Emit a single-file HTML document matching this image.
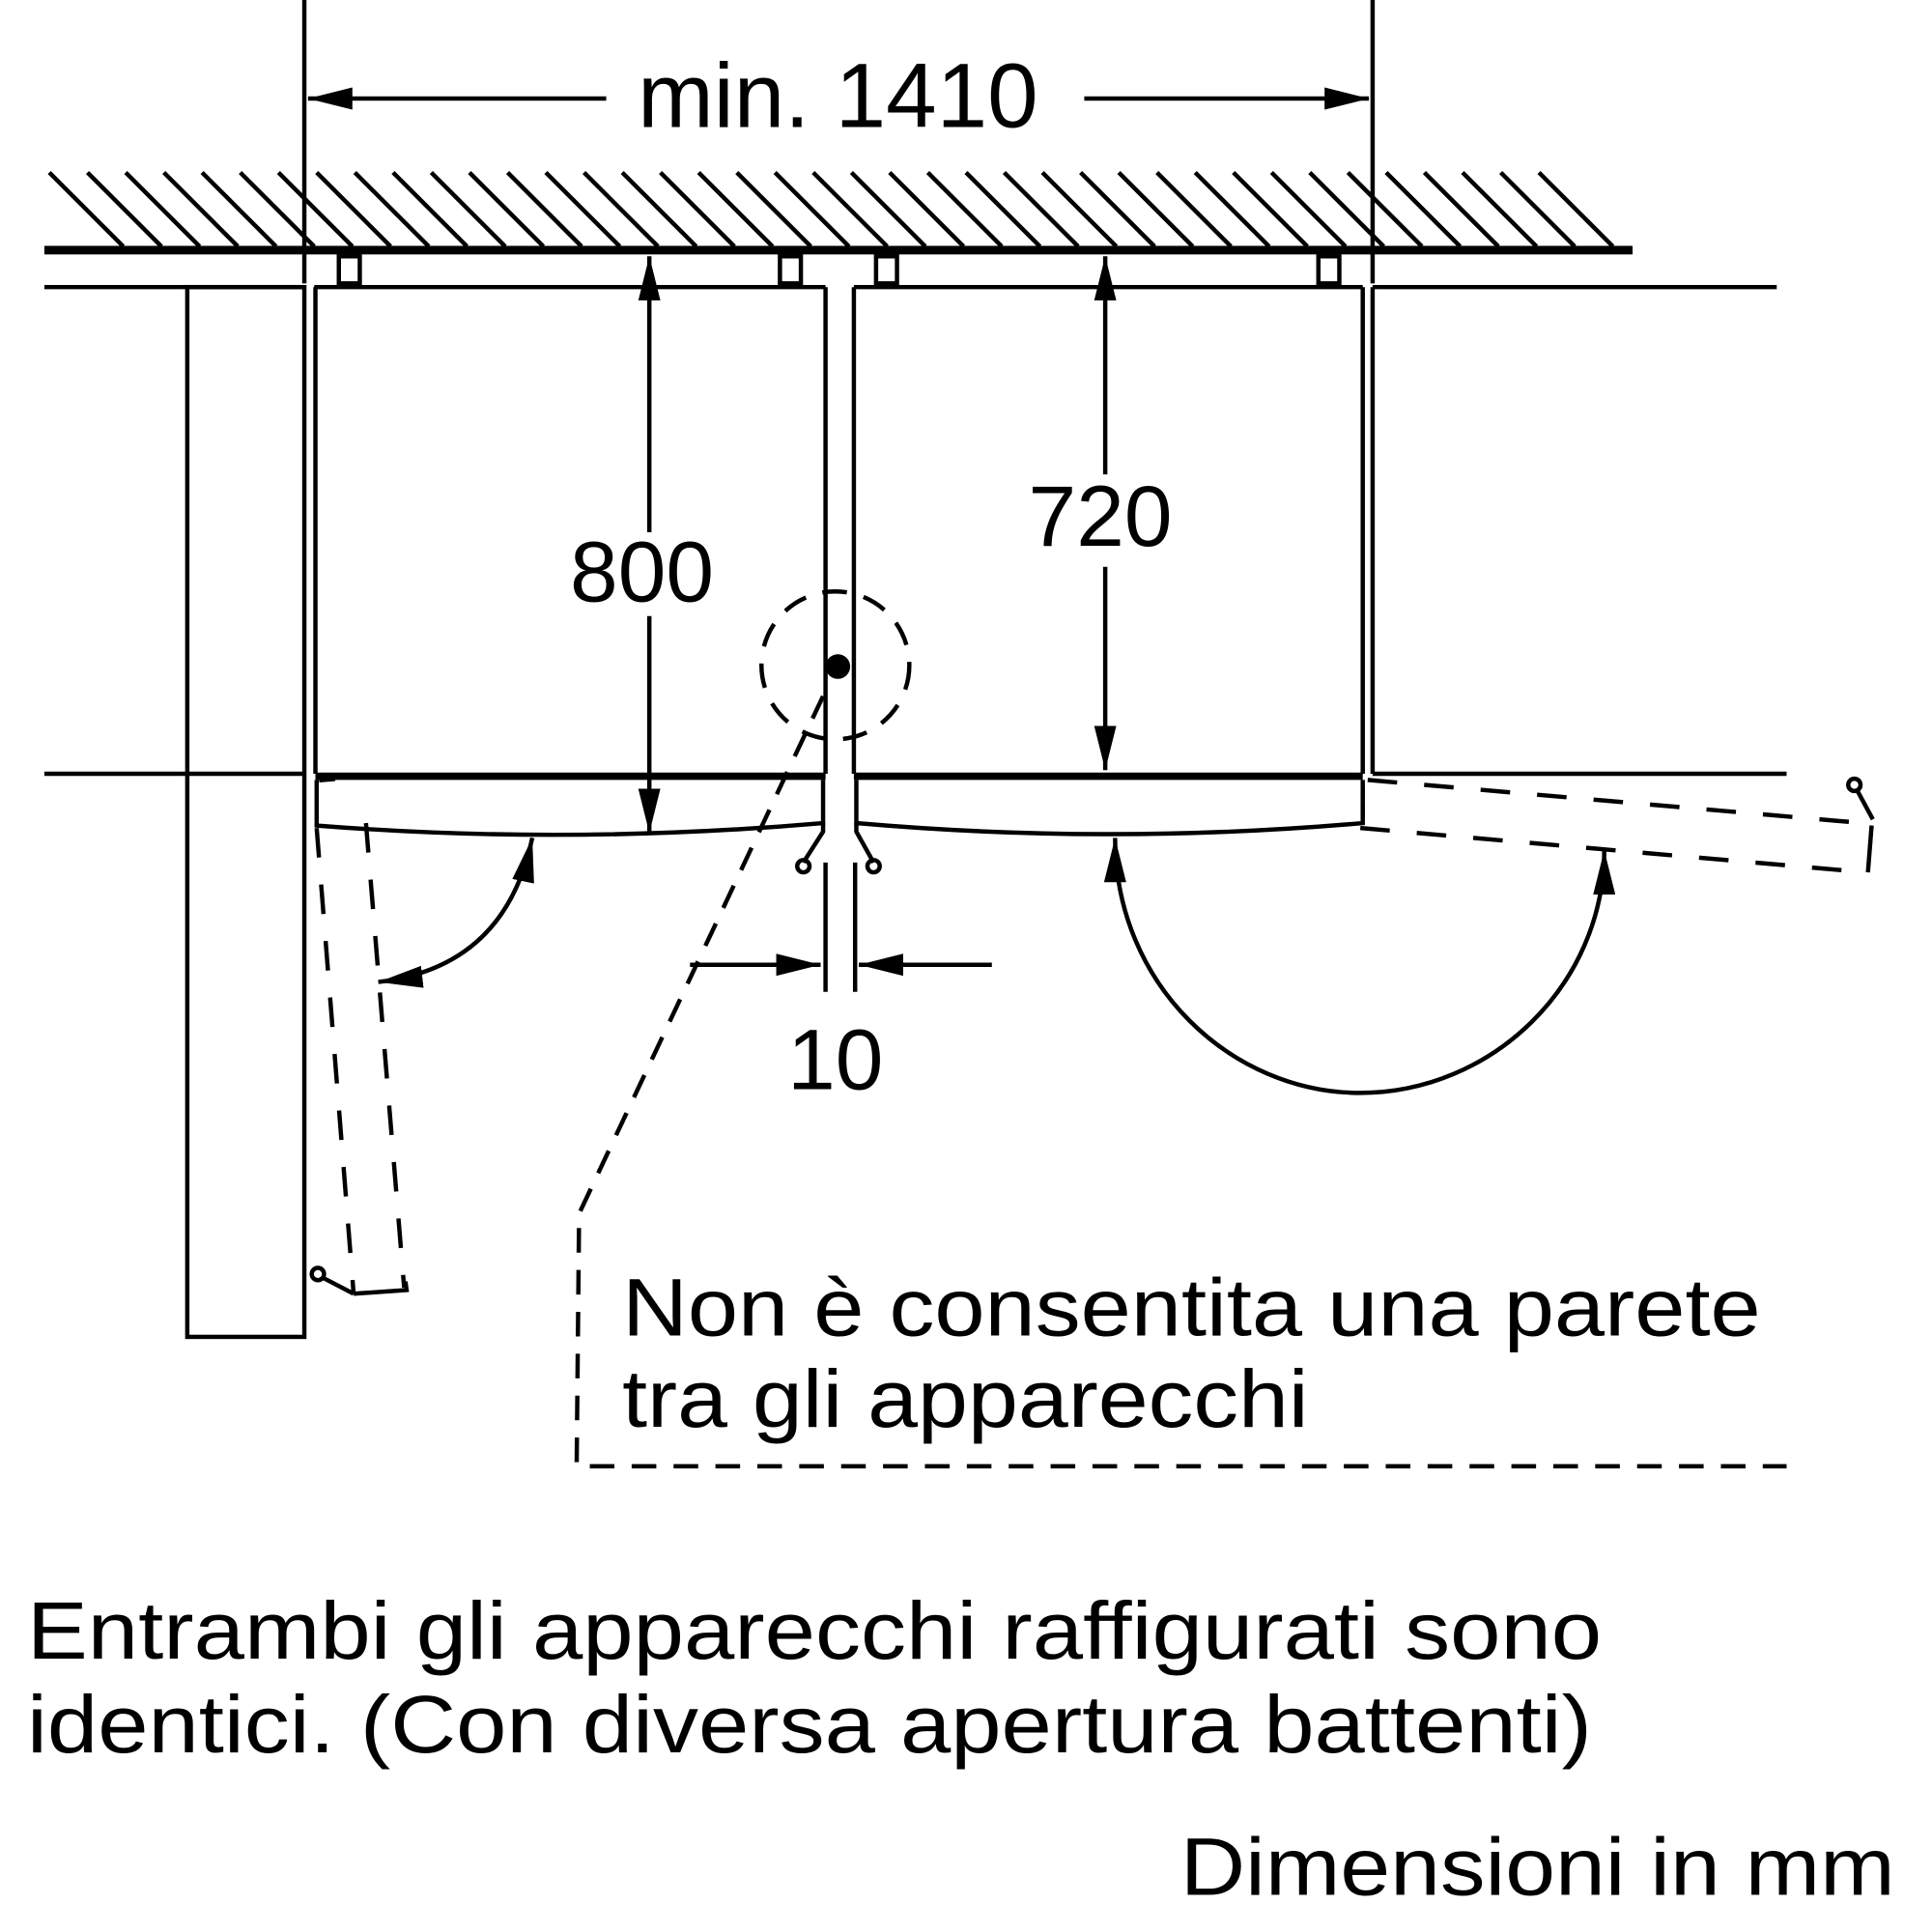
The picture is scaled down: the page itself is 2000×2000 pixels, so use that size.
<!DOCTYPE html>
<html><head><meta charset="utf-8"><style>html,body{margin:0;padding:0;background:#fff}svg{display:block}</style></head>
<body>
<svg width="2000" height="2000" viewBox="0 0 1568 1568" xmlns="http://www.w3.org/2000/svg" font-family="Liberation Sans, sans-serif">
<defs>
<marker id="s" viewBox="0 0 36 18" refX="36" refY="9" markerWidth="36" markerHeight="18" markerUnits="userSpaceOnUse" orient="auto"><path d="M0,0 L36,9 L0,18 Z" fill="#000"/></marker>
<marker id="sb" viewBox="0 0 36 18" refX="0" refY="9" markerWidth="36" markerHeight="18" markerUnits="userSpaceOnUse" orient="auto"><path d="M36,0 L0,9 L36,18 Z" fill="#000"/></marker>
</defs>
<g stroke="#000" fill="none" stroke-width="3.5">
<line x1="247" y1="0" x2="247" y2="230"/>
<line x1="1114" y1="0" x2="1114" y2="230"/>
<line x1="250" y1="80" x2="492" y2="80" marker-start="url(#sb)"/>
<line x1="880" y1="80" x2="1111" y2="80" marker-end="url(#s)"/>
<path d="M40,140 L100,200 M71,140 L131,200 M102,140 L162,200 M133,140 L193,200 M164,140 L224,200 M195,140 L255,200 M226,140 L286,200 M257,140 L317,200 M288,140 L348,200 M319,140 L379,200 M350,140 L410,200 M381,140 L441,200 M412,140 L472,200 M443,140 L503,200 M474,140 L534,200 M505,140 L565,200 M536,140 L596,200 M567,140 L627,200 M598,140 L658,200 M629,140 L689,200 M660,140 L720,200 M691,140 L751,200 M722,140 L782,200 M753,140 L813,200 M784,140 L844,200 M815,140 L875,200 M846,140 L906,200 M877,140 L937,200 M908,140 L968,200 M939,140 L999,200 M970,140 L1030,200 M1001,140 L1061,200 M1032,140 L1092,200 M1063,140 L1123,200 M1094,140 L1154,200 M1125,140 L1185,200 M1156,140 L1216,200 M1187,140 L1247,200 M1218,140 L1278,200 M1249,140 L1309,200"/>
<line x1="36" y1="203" x2="1325" y2="203" stroke-width="7"/>
<rect x="275" y="208" width="17" height="22"/><rect x="633" y="208" width="17" height="22"/>
<rect x="711" y="208" width="17" height="22"/><rect x="1070" y="208" width="17" height="22"/>
<line x1="36" y1="233" x2="247" y2="233"/><line x1="1114" y1="233" x2="1442" y2="233"/>
<line x1="255" y1="233" x2="670" y2="233"/><line x1="693" y1="233" x2="1106" y2="233"/>
<rect x="152" y="233" width="95" height="852"/>
<line x1="256" y1="233" x2="256" y2="628"/><line x1="670" y1="233" x2="670" y2="628"/>
<line x1="693" y1="233" x2="693" y2="628"/><line x1="1106" y1="233" x2="1106" y2="628"/>
<line x1="1114" y1="233" x2="1114" y2="628"/>
<line x1="36" y1="628" x2="247" y2="628"/><line x1="1114" y1="628" x2="1450" y2="628"/>
<line x1="256" y1="630" x2="670" y2="630" stroke-width="6"/><line x1="693" y1="630" x2="1106" y2="630" stroke-width="6"/>
<path d="M257,633 L257,670 Q460,686 668,668 L668,633"/>
<path d="M695,633 L695,668 Q900,686 1106,668 L1106,633"/>
<path d="M668,668 L668,675 L652,700 M695,668 L695,675 L709,700"/>
<circle cx="652" cy="703" r="5"/><circle cx="709" cy="703" r="5"/>
<line x1="670" y1="700" x2="670" y2="805"/><line x1="694" y1="700" x2="694" y2="805"/>
<line x1="560" y1="783" x2="666" y2="783" marker-end="url(#s)"/>
<line x1="805" y1="783" x2="697" y2="783" marker-end="url(#s)"/>
<line x1="527" y1="208" x2="527" y2="432" marker-start="url(#sb)"/>
<line x1="527" y1="500" x2="527" y2="676" marker-end="url(#s)"/>
<line x1="897" y1="208" x2="897" y2="385" marker-start="url(#sb)"/>
<line x1="897" y1="460" x2="897" y2="625" marker-end="url(#s)"/>
<circle cx="678" cy="540" r="60" stroke-dasharray="20,14"/>
<polyline points="668,565 470,985 468,1190 1450,1190" stroke-dasharray="20,14"/>
<g stroke-dasharray="24,22">
<line x1="257" y1="672" x2="287" y2="1050"/><line x1="297" y1="668" x2="328" y2="1045"/>
</g>
<path d="M287,1050 L330,1047 L329,1040"/>
<path d="M262,1037 L287,1050"/><circle cx="258" cy="1034" r="5"/>
<path d="M259,633 L272,632" stroke-width="4"/>
<path d="M432,680 Q410,785 307,797" marker-start="url(#sb)" marker-end="url(#s)"/>
<g stroke-dasharray="24,22">
<line x1="1110" y1="633" x2="1512" y2="668"/><line x1="1104" y1="672" x2="1515" y2="708"/>
</g>
<line x1="1106" y1="640" x2="1106" y2="668" stroke-dasharray="8,6"/>
<path d="M1519,670 L1516,708"/>
<path d="M1507,641 L1520,665"/><circle cx="1505" cy="637" r="5"/>
<path d="M905,680 C905,800 1000,887 1104,887 C1210,887 1302,800 1302,690" marker-start="url(#sb)" marker-end="url(#s)"/>
</g>
<circle cx="680" cy="541" r="10" fill="#000"/>
<g fill="#000">
<text x="680" y="103" font-size="74" text-anchor="middle">min. 1410</text>
<text x="521" y="488" font-size="70" text-anchor="middle">800</text>
<text x="893" y="443" font-size="70" text-anchor="middle">720</text>
<text x="678" y="884" font-size="70" text-anchor="middle">10</text>
<text x="505" y="1084" font-size="66" textLength="924" lengthAdjust="spacingAndGlyphs">Non è consentita una parete</text>
<text x="505" y="1158" font-size="66" textLength="557" lengthAdjust="spacingAndGlyphs">tra gli apparecchi</text>
<text x="22" y="1346" font-size="66" textLength="1278" lengthAdjust="spacingAndGlyphs">Entrambi gli apparecchi raffigurati sono</text>
<text x="22" y="1422" font-size="66" textLength="1270" lengthAdjust="spacingAndGlyphs">identici. (Con diversa apertura battenti)</text>
<text x="958" y="1538" font-size="66" textLength="580" lengthAdjust="spacingAndGlyphs">Dimensioni in mm</text>
</g>
</svg>
</body></html>
